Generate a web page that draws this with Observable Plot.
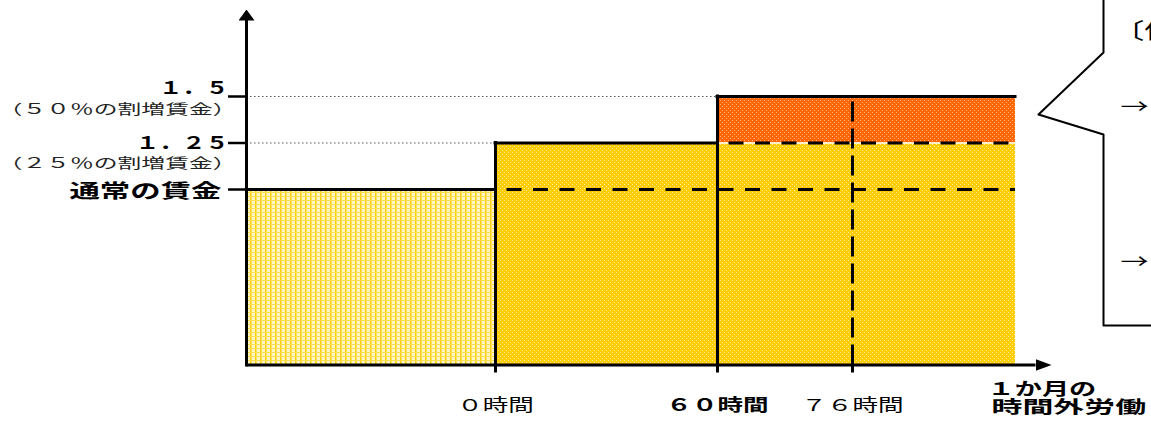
<!DOCTYPE html>
<html><head><meta charset="utf-8">
<script src="https://cdn.jsdelivr.net/npm/d3@7"></script>
<script src="https://cdn.jsdelivr.net/npm/@observablehq/plot@0.6"></script>
<style>
html,body{margin:0;padding:0;background:#fff;overflow:hidden;}
#chart{width:1151px;height:423px;}
</style>
</head><body><div id="chart"></div>
<script>
// ---- conceptual axis anchors (hours / wage ratio) ----
const X_ORIGIN = -67, X_END = 120, X_ARROW = 130, Y_TOP = 2;

// ---- x axis (overtime hours per month) ----
const hourTicks = [0, 60, 76];
const hourLabels = ["０時間", "６０時間", "７６時間"];
const hourBold = [false, true, false];
const xTitle = ["１か月の", "時間外労働"];

// ---- y axis (wage ratio) ----
const wageLevels = [1, 1.25, 1.5];
const wageLabels = ["通常の賃金", "１．２５", "１．５"];
const wageNotes = ["", "（２５％の割増賃金）", "（５０％の割増賃金）"];

// ---- wage bands ----
const bandFrom = [X_ORIGIN, 0, 60, 60];
const bandTo   = [0, 60, X_END, X_END];
const bandLow  = [0, 0, 0, 1.25];
const bandHigh = [1, 1.25, 1.25, 1.5];
const bandKind = ["normal", "p25", "p25", "p50"];

// ---- callout (annotation box, clipped at right edge) ----
const calloutX = [164, 164, 131.5, 164, 164, 192.5];
const calloutY = [2.164, 1.789, 1.403, 1.296, 0.225, 0.225];
const calloutTitle = "〔例〕";
const calloutTitleX = 168, calloutTitleY = 1.928;
const calloutArrows = ["→", "→"];
const calloutArrowX = [172.5, 172.5];
const calloutArrowY = [1.441, 0.584];

// ---- build tables ----
const bands = bandKind.map((k, i) => ({kind: k, x1: bandFrom[i], x2: bandTo[i], y1: bandLow[i], y2: bandHigh[i]}));
const hours = hourTicks.map((h, i) => ({h, label: hourLabels[i], bold: hourBold[i]}));
const wages = wageLevels.map((v, i) => ({v, label: wageLabels[i], note: wageNotes[i]}));
const callout = calloutX.map((x, i) => ({x, y: calloutY[i]}));
const arrows = calloutArrows.map((t, i) => ({t, x: calloutArrowX[i], y: calloutArrowY[i]}));

const FONT = "'Noto Sans CJK JP', 'Noto Sans', sans-serif";
const byKind = k => bands.filter(d => d.kind === k);
const normal = bands.find(d => d.kind === "normal"), p25 = bands.filter(d => d.kind === "p25"), p50 = bands.find(d => d.kind === "p50");
const wageAt = v => wages.filter(d => d.v === v);

// text marks, in drawing order, with the horizontal stretch of the original typography
const textMarks = [
  [Plot.text(wageAt(1.5), {x: X_ORIGIN, y: "v", text: "label", textAnchor: "end", dx: -18, dy: -8, fontSize: 17.5, fontWeight: "bold", fill: "#000"}), 1.32],
  [Plot.text(wageAt(1.25), {x: X_ORIGIN, y: "v", text: "label", textAnchor: "end", dx: -18, dy: 0, fontSize: 17.5, fontWeight: "bold", fill: "#000"}), 1.32],
  [Plot.text(wageAt(1), {x: X_ORIGIN, y: "v", text: "label", textAnchor: "end", dx: -25, dy: 2, fontSize: 19.5, fontWeight: "bold", fill: "#000"}), 1.56],
  [Plot.text(wageAt(1.5), {x: X_ORIGIN, y: "v", text: "note", textAnchor: "end", dx: -10, dy: 13, fontSize: 14, fill: "#222"}), 1.7],
  [Plot.text(wageAt(1.25), {x: X_ORIGIN, y: "v", text: "note", textAnchor: "end", dx: -10, dy: 21, fontSize: 14, fill: "#222"}), 1.7],
  [Plot.text(hours.filter(d => !d.bold), {x: "h", y: 0, text: "label", dy: 41, fontSize: 16.5, fill: "#000"}), 1.55],
  [Plot.text(hours.filter(d => d.bold), {x: "h", y: 0, text: "label", dy: 41, fontSize: 16.5, fontWeight: "bold", fill: "#000"}), 1.55],
  [Plot.text([xTitle[0]], {x: X_END, y: 0, text: d => d, textAnchor: "start", dx: -28, dy: 24.5, fontSize: 17, fontWeight: "bold", fill: "#000"}), 1.6],
  [Plot.text([xTitle[1]], {x: X_END, y: 0, text: d => d, textAnchor: "start", dx: -24, dy: 43, fontSize: 17, fontWeight: "bold", fill: "#000"}), 1.82],
  [Plot.text([calloutTitle], {x: calloutTitleX, y: calloutTitleY, text: d => d, textAnchor: "start", fontSize: 22, fill: "#000"}), 1.5],
  [Plot.text(arrows, {x: "x", y: "y", text: "t", textAnchor: "start", fontSize: 20, fill: "#000"}), 1.4]
];

const plot = Plot.plot({
  width: 1151, height: 423,
  marginTop: 0, marginRight: 0, marginBottom: 0, marginLeft: 0,
  style: {background: "#fff", fontFamily: FONT},
  x: {type: "linear", domain: [X_ORIGIN, 0, 60, 76, X_END, X_ARROW], range: [246, 495, 717, 852, 1015, 1035], axis: null},
  y: {type: "linear", domain: [0, 1, 1.25, 1.5, Y_TOP], range: [364.5, 189, 142.5, 96, 20], axis: null},
  marks: [
    // fills
    Plot.rect(byKind("normal"), {x1: "x1", x2: "x2", y1: "y1", y2: "y2", fill: "url(#pGrid)"}),
    Plot.rect(byKind("p25"), {x1: "x1", x2: "x2", y1: "y1", y2: "y2", fill: "url(#pYellow)"}),
    Plot.rect(byKind("p50"), {x1: "x1", x2: "x2", y1: "y1", y2: "y2", fill: "url(#pOrange)"}),
    // white seam between orange and yellow
    Plot.ruleY([p50], {y: "y1", x1: "x1", x2: "x2", stroke: "#fff", strokeWidth: 1.5}),
    // dotted guides from y axis
    Plot.ruleY([p25[0]], {y: "y2", x1: X_ORIGIN, x2: "x1", stroke: "#555", strokeWidth: 1, strokeDasharray: "1.5,2.5"}),
    Plot.ruleY([p50], {y: "y2", x1: X_ORIGIN, x2: "x1", stroke: "#555", strokeWidth: 1, strokeDasharray: "1.5,2.5"}),
    // dashed continuation lines
    Plot.ruleY([normal], {y: "y2", x1: "x2", x2: X_END, stroke: "#000", strokeWidth: 3, strokeDasharray: "15,11.5", strokeDashoffset: 15}),
    Plot.ruleY([p50], {y: "y1", x1: "x1", x2: "x2", stroke: "#000", strokeWidth: 3, strokeDasharray: "15,11.5", strokeDashoffset: 15}),
    Plot.ruleX(hours.filter(d => !d.bold && d.h > 0), {x: "h", y1: 0, y2: p50.y2, stroke: "#000", strokeWidth: 3, strokeDasharray: "20,7"}),
    // solid step outline
    Plot.ruleY(bands.filter(d => d.kind !== "p25" || d.x1 === 0), {y: "y2", x1: "x1", x2: "x2", stroke: "#000", strokeWidth: 3, strokeLinecap: "square"}),
    Plot.ruleX([p25[0], p50], {x: "x1", y1: 0, y2: "y2", stroke: "#000", strokeWidth: 3, strokeLinecap: "square"}),
    // axes (links: first = x axis, second = y axis)
    Plot.link([{x1: X_ORIGIN, y1: 0, x2: X_ARROW, y2: 0}], {x1: "x1", y1: "y1", x2: "x2", y2: "y2", stroke: "#000", strokeWidth: 3}),
    Plot.link([{x1: X_ORIGIN, y1: 0, x2: X_ORIGIN, y2: Y_TOP}], {x1: "x1", y1: "y1", x2: "x2", y2: "y2", stroke: "#000", strokeWidth: 3, strokeLinecap: "square"}),
    // ticks
    Plot.ruleY(wages, {y: "v", x1: X_ORIGIN, x2: X_ORIGIN, insetLeft: -18, stroke: "#000", strokeWidth: 2.5}),
    Plot.ruleX(hours, {x: "h", y1: 0, y2: 0, insetBottom: -8, stroke: "#000", strokeWidth: 3}),
    // callout
    Plot.line(callout, {x: "x", y: "y", stroke: "#000", strokeWidth: 2, curve: "linear"}),
    // labels
    ...textMarks.map(d => d[0])
  ]
});

// defs: fill patterns and arrowheads
plot.insertAdjacentHTML("afterbegin", `<defs>
  <pattern id="pGrid" patternUnits="userSpaceOnUse" width="5" height="4">
    <rect width="5" height="4" fill="#FFF6C4"/>
    <rect x="0" y="0" width="1.5" height="4" fill="#FFCC00"/>
    <rect x="0" y="0" width="5" height="1" fill="#FFDD50"/>
  </pattern>
  <pattern id="pYellow" patternUnits="userSpaceOnUse" width="4" height="4">
    <rect width="4" height="4" fill="#FFCC00"/>
    <rect x="0" y="0" width="1" height="1" fill="#FFF0A0"/>
    <rect x="2" y="2" width="1" height="1" fill="#FFF0A0"/>
  </pattern>
  <pattern id="pOrange" patternUnits="userSpaceOnUse" width="4" height="4">
    <rect width="4" height="4" fill="#FF6600"/>
    <rect x="0" y="0" width="1" height="1" fill="#FFB37A"/>
    <rect x="2" y="2" width="1" height="1" fill="#FFB37A"/>
  </pattern>
  <marker id="ahX" markerUnits="userSpaceOnUse" viewBox="0 0 16 12" refX="0" refY="6" markerWidth="16" markerHeight="12" orient="auto">
    <path d="M0,0L16,6L0,12Z" fill="#000"/>
  </marker>
  <marker id="ahY" markerUnits="userSpaceOnUse" viewBox="0 0 11 16" refX="0" refY="8" markerWidth="11" markerHeight="16" orient="auto">
    <path d="M0,0L11,8L0,16Z" fill="#000"/>
  </marker>
</defs>`);

const linkPaths = [...plot.querySelectorAll('g[aria-label="link"]')].map(g => g.querySelector("path"));
if (linkPaths[0]) linkPaths[0].setAttribute("marker-end", "url(#ahX)");
if (linkPaths[1]) linkPaths[1].setAttribute("marker-end", "url(#ahY)");

// horizontal stretch
const textGroups = [...plot.querySelectorAll('g[aria-label="text"]')];
textGroups.forEach((g, gi) => {
  const s = textMarks[gi] ? textMarks[gi][1] : 1;
  g.querySelectorAll("text").forEach(t => {
    const tr = t.getAttribute("transform");
    if (tr) t.setAttribute("transform", tr + ` scale(${s},1)`);
    else {
      const x = +t.getAttribute("x") || 0, y = +t.getAttribute("y") || 0;
      t.removeAttribute("x"); t.removeAttribute("y");
      t.setAttribute("transform", `translate(${x},${y}) scale(${s},1)`);
    }
  });
});
document.getElementById("chart").appendChild(plot);
</script>
</body></html>
